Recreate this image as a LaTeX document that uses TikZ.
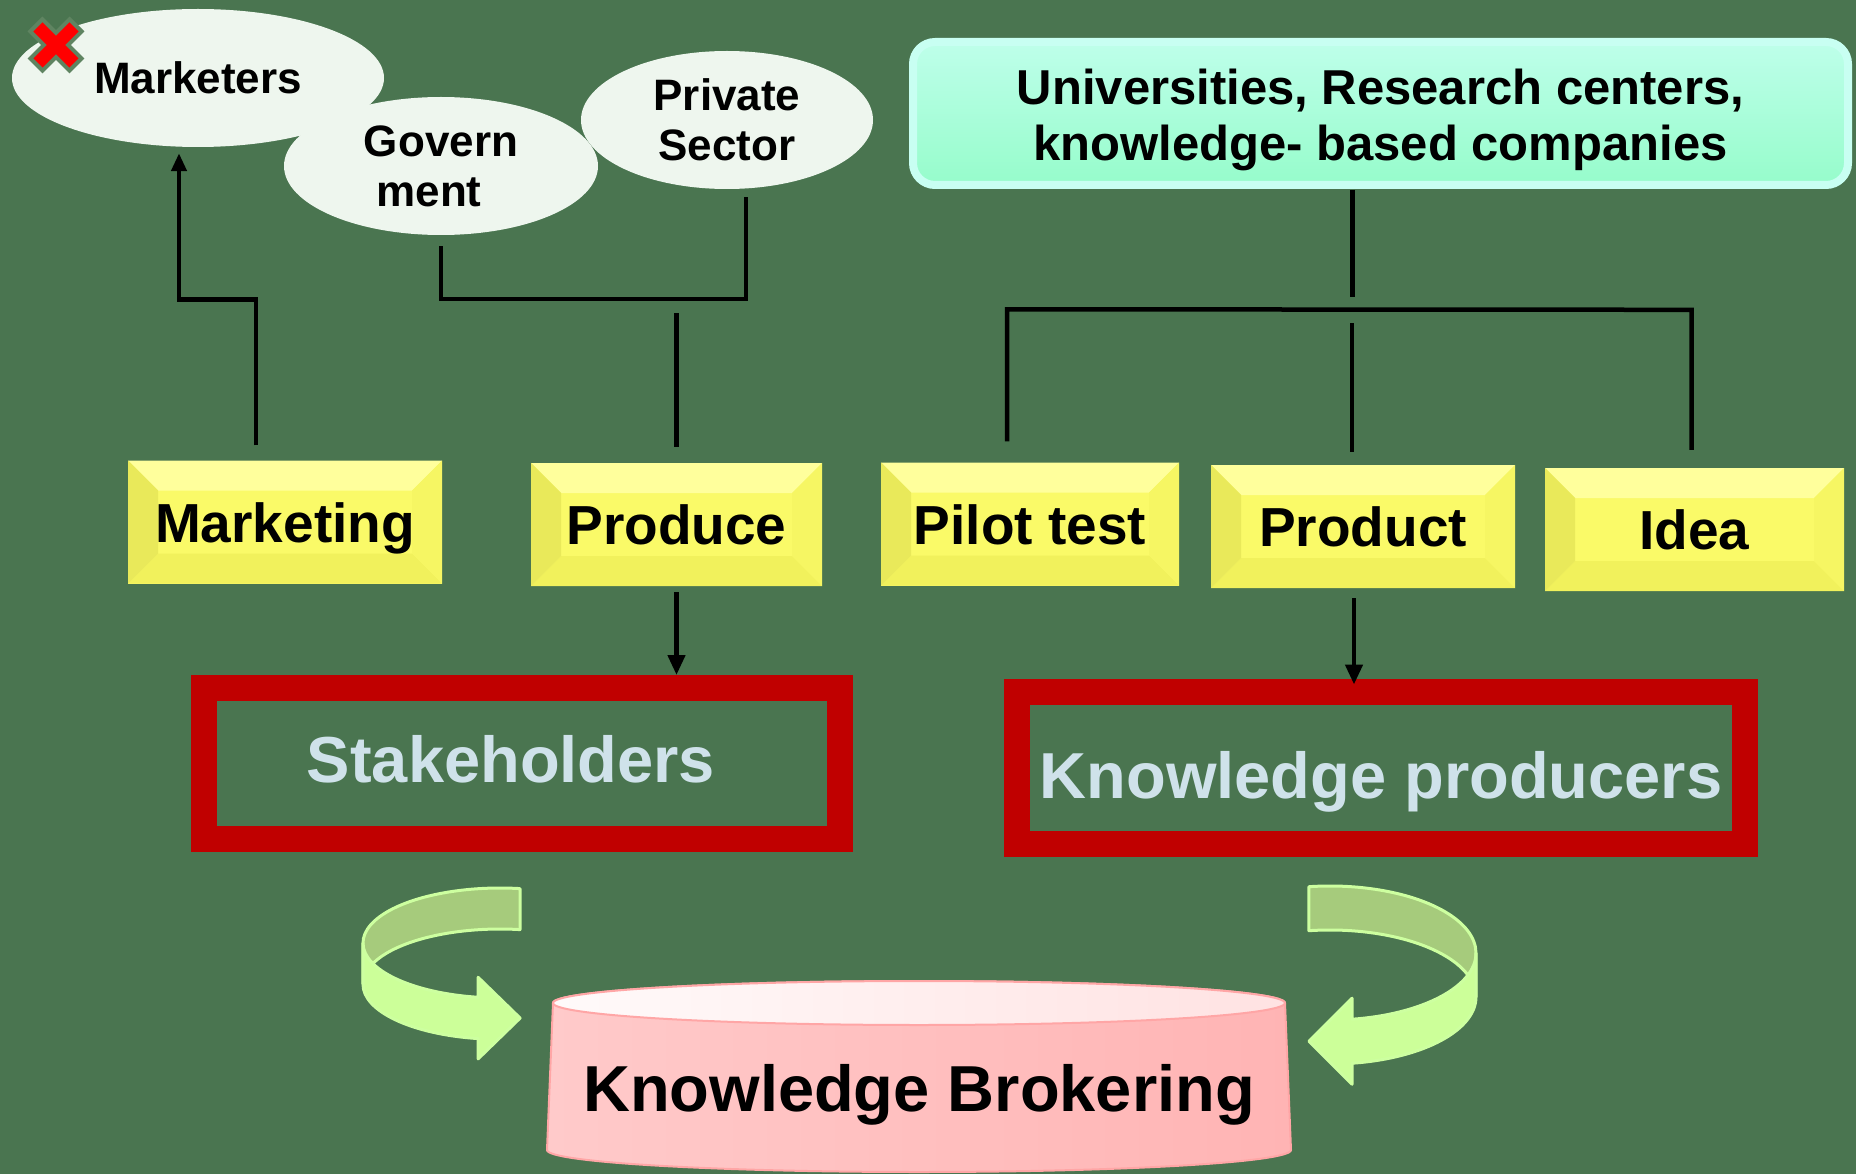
\documentclass[tikz,border=0pt]{standalone}
\usepackage{fontspec}
\setmainfont{Liberation Sans}
\usepackage{tikz}
\usetikzlibrary{arrows.meta,shapes.geometric,positioning,calc}

\definecolor{bggreen}{HTML}{4A7550}
\definecolor{bubblefill}{HTML}{EEF6EE}
\definecolor{unitop}{HTML}{BEFFEA}
\definecolor{unibot}{HTML}{96FCCB}
\definecolor{uniedge}{HTML}{C8FFF2}
\definecolor{yface}{HTML}{FAFA68}
\definecolor{ytop}{HTML}{FFFF9C}
\definecolor{yleft}{HTML}{E9E95A}
\definecolor{yright}{HTML}{F6F663}
\definecolor{ybot}{HTML}{F1F15C}
\definecolor{redframe}{HTML}{C00000}
\definecolor{palecap}{HTML}{CFE2EA}
\definecolor{cylbodyl}{HTML}{FFCACA}
\definecolor{cylbodyr}{HTML}{FFB4B4}
\definecolor{cyltopl}{HTML}{FFFAFA}
\definecolor{cyltopr}{HTML}{FFE2E2}
\definecolor{cyledge}{HTML}{FFA6A6}
\definecolor{ribback}{HTML}{A6CB7C}
\definecolor{ribfront}{HTML}{CCFF99}
\definecolor{ribedge}{HTML}{CDFFA0}
\definecolor{xred}{HTML}{FF0000}
\definecolor{xedge}{HTML}{5F8461}

\newcommand{\bubfont}{\fontsize{44}{50}\selectfont\bfseries}
\newcommand{\unifont}{\fontsize{49}{56}\selectfont\bfseries}
\newcommand{\boxfont}{\fontsize{55}{60}\selectfont\bfseries}
\newcommand{\bigfont}{\fontsize{65}{70}\selectfont\bfseries}

\tikzset{
  bubble/.style={ellipse, fill=bubblefill, inner sep=0pt, minimum height=138pt, align=center, font=\bubfont},
  unibox/.style={rectangle, rounded corners=22pt, draw=uniedge, line width=8pt, top color=unitop, bottom color=unibot,
    minimum width=935pt, minimum height=143pt, align=center, font=\unifont},
  ybox/.style={rectangle, fill=yface, inner sep=0pt, minimum height=123pt, font=\boxfont, text height=40pt, text depth=0pt,
    path picture={
      \coordinate (bnw) at (path picture bounding box.north west);
      \coordinate (bne) at (path picture bounding box.north east);
      \coordinate (bsw) at (path picture bounding box.south west);
      \coordinate (bse) at (path picture bounding box.south east);
      \fill[ytop] (bnw) -- (bne) -- ($(bne)+(-30,30)$) -- ($(bnw)+(30,30)$) -- cycle;
      \fill[ybot] (bsw) -- (bse) -- ($(bse)+(-30,-30)$) -- ($(bsw)+(30,-30)$) -- cycle;
      \fill[yleft] (bnw) -- ($(bnw)+(30,30)$) -- ($(bsw)+(30,-30)$) -- (bsw) -- cycle;
      \fill[yright] (bne) -- ($(bne)+(-30,30)$) -- ($(bse)+(-30,-30)$) -- (bse) -- cycle;
    }},
  redbox/.style={rectangle, draw=redframe, line width=26pt, font=\bigfont, text=palecap, text height=47pt, text depth=0pt},
  conn/.style={line width=4.5pt, black},
  tip/.style={-{Triangle[length=20pt,width=17pt]}},
  ribbonback/.style={fill=ribback, draw=ribedge, line width=3pt, line join=round},
  ribbonfront/.style={fill=ribfront, draw=ribedge, line width=3pt, line join=round},
}

\begin{document}
\begin{tikzpicture}[x=1pt,y=-1pt]
\useasboundingbox (0,0) rectangle (1856,1174);
\fill[bggreen] (0,0) rectangle (1856,1174);

% top row
\node[bubble, minimum width=372pt] (mrk) at (198,78) {Marketers};
\node[bubble, minimum width=314pt] (gov) at (441,166) {Govern\\ment\kern24pt};
\node[bubble, minimum width=292pt] (prv) at (727,120) {Private\\Sector};
\node[unibox] (uni) at (1380.5,113.5) {\rule{0pt}{48pt}Universities, Research centers,\\knowledge- based companies};

% red cross
\coordinate (xm) at (56,45);
\draw[xedge, line width=21pt] ($(xm)+(-21,-21)$) -- ($(xm)+(21,21)$) ($(xm)+(21,-21)$) -- ($(xm)+(-21,21)$);
\draw[xred, line width=13pt] ($(xm)+(-18,-18)$) -- ($(xm)+(18,18)$) ($(xm)+(18,-18)$) -- ($(xm)+(-18,18)$);

% yellow row
\node[ybox, minimum width=314pt] (mkt) at (285,522) {Marketing};
\node[ybox, minimum width=291pt] (prd) at (676.5,524.5) {Produce};
\node[ybox, minimum width=298pt] (pil) at (1030,524) {Pilot test};
\node[ybox, minimum width=304pt] (pdt) at (1363,526.5) {Product};
\node[ybox, minimum width=299pt] (ida) at (1694.5,529.5) {Idea};

% red frames
\node[redbox, minimum width=636pt, minimum height=151pt, text height=38pt] (stk) at (522,763.5) {Stakeholders\kern22pt};
\node[redbox, minimum width=728pt, minimum height=152pt, text height=61pt] (kpr) at (1381,767.5) {Knowledge producers};

% connectors, left
\draw[conn, -{Triangle[length=18pt,width=15pt]}] ($(mkt.north)+(-29,-15)$) -- ++(0,-146) -| ($(mrk.south)+(-19,6)$);
\coordinate (sbar) at ($(gov.south)+(0,64)$);
\draw[conn] ($(gov.south)+(0,11)$) -- (sbar) -| ($(prv.south)+(19,8)$);
\draw[conn, shorten <=14pt, shorten >=16pt] (prd.north |- sbar) -- (prd.north);
\draw[conn, tip, shorten <=6pt] (prd.south) -- (prd.south |- stk.north);

% connectors, right
\draw[conn] ($(uni.south)+(-28,1)$) -- ++(0,107);
\draw[conn] ($(pil.north)+(-23,-21)$) -- ++(0,-132) -- ($(ida.north)+(-3,-158)$) -- ++(0,140);
\draw[conn] ($(pdt.north)+(-11,-13)$) -- ++(0,-129);
\draw[conn, tip, shorten <=10pt, shorten >=-6pt] ($(pdt.south)+(-9,0)$) -- ($(pdt.south |- kpr.north)+(-9,0)$);

% curved arrows
\filldraw[ribbonback] (520,888.6) arc[start angle=-81.6, end angle=-180, x radius=137, y radius=55]
  -- ++(0,41) arc[start angle=-180, end angle=-81.6, x radius=137, y radius=55] -- cycle;
\filldraw[ribbonfront] (363,943) arc[start angle=-180, end angle=-260.8, x radius=137, y radius=55]
  -- ++(0,-20) -- ++(42,40.8) -- ++(-42,40.8) -- ++(0,-20.3)
  arc[start angle=-260.8, end angle=-180, x radius=137, y radius=55] -- cycle;

\filldraw[ribbonback] (1308.9,886.7) arc[start angle=-98.3, end angle=0, x radius=146, y radius=67]
  -- ++(0,44) arc[start angle=0, end angle=-98.3, x radius=146, y radius=67] -- cycle;
\filldraw[ribbonfront] (1476,953) arc[start angle=0, end angle=81.3, x radius=146, y radius=67]
  -- ++(0,-21) -- ++(-43.1,43) -- ++(43.1,43) -- ++(0,-21)
  arc[start angle=81.3, end angle=0, x radius=146, y radius=67] -- cycle;

% cylinder
\shade[left color=cylbodyl, right color=cylbodyr, draw=cyledge, line width=2pt]
  (553,1003) -- (547,1150) arc[start angle=180, end angle=0, x radius=372, y radius=22]
  -- (1285,1003) arc[start angle=0, end angle=-180, x radius=366, y radius=22] -- cycle;
\shade[left color=cyltopl, right color=cyltopr, draw=cyledge, line width=2pt] (919,1003) ellipse[x radius=366, y radius=22];
\node[font=\bigfont, text height=45pt, text depth=0pt] (kb) at (919,1089) {Knowledge Brokering};
\end{tikzpicture}
\end{document}
